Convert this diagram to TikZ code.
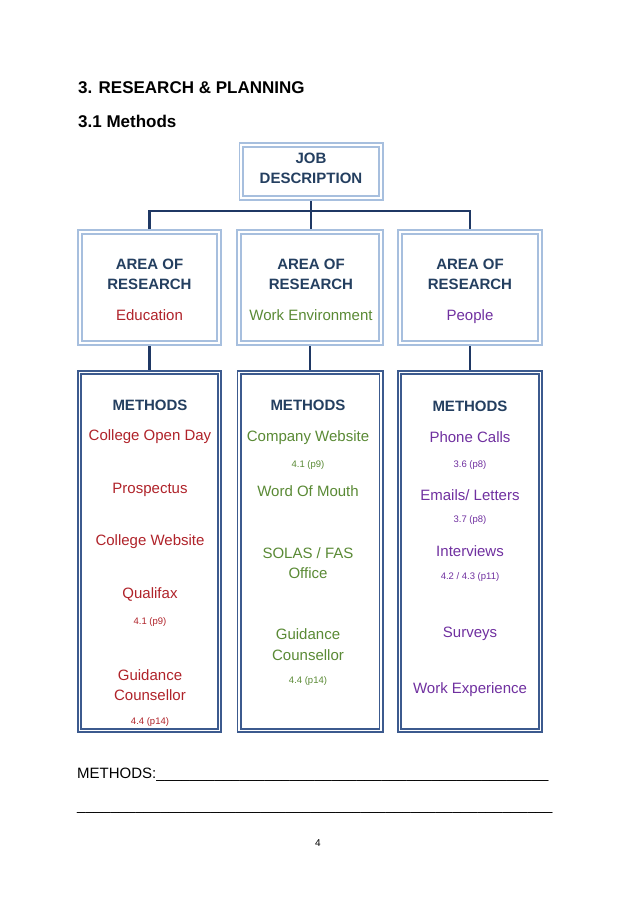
\documentclass[tikz,border=0pt]{standalone}
\usepackage{fontspec}
\setmainfont{Liberation Sans}
\definecolor{navy}{HTML}{1F3864}
\definecolor{headnavy}{HTML}{243F60}
\definecolor{areablue}{HTML}{A7BFDE}
\definecolor{methblue}{HTML}{3C5A8E}
\definecolor{edured}{HTML}{B0232A}
\definecolor{envgreen}{HTML}{5A8A35}
\definecolor{ppurple}{HTML}{7030A0}
\newcommand\myTenUS{\_\_\_\_\_\_\_\_\_\_}
\begin{document}
\begin{tikzpicture}[x=1pt,y=-1pt,
  areabox/.style={draw=areablue, double=white, line width=1.8pt, double distance=2pt,
    outer sep=2.8pt, inner sep=0pt, fill=white},
  methbox/.style={draw=methblue, double=white, line width=1.6pt, double distance=1.8pt,
    outer sep=2.5pt, inner sep=0pt, fill=white},
  conn/.style={draw=navy, line width=2.4pt},
  big/.style={font=\fontsize{17}{20}\selectfont\bfseries, inner sep=0pt, anchor=base west},
  head/.style={font=\fontsize{15}{18}\selectfont\bfseries, text=headnavy, inner sep=0pt, anchor=base},
  item/.style={font=\fontsize{15}{18}\selectfont, inner sep=0pt, anchor=base},
  ref/.style={font=\fontsize{9.5}{11}\selectfont, inner sep=0pt, anchor=base},
  plain/.style={font=\fontsize{15}{18}\selectfont, inner sep=0pt, anchor=base west},
]
\useasboundingbox (0,0) rectangle (638,903);

% titles
\node[big] (title) at (78,93) {3. RESEARCH \& PLANNING};
\node[big] (sub) at (78,127) {3.1 Methods};

% boxes
\node[areabox, minimum width=139.4pt, minimum height=53.4pt] (job) at (311,171.5) {};
\node[areabox, minimum width=139.4pt, minimum height=111.4pt] (a1) at (149.5,287.5) {};
\node[areabox, minimum width=142.4pt, minimum height=111.4pt] (a2) at (310,287.5) {};
\node[areabox, minimum width=140.4pt, minimum height=111.4pt] (a3) at (470,287.5) {};
\node[methbox, minimum width=140pt, minimum height=358pt] (m1) at (149.5,551.5) {};
\node[methbox, minimum width=142pt, minimum height=358pt] (m2) at (310,551.5) {};
\node[methbox, minimum width=141pt, minimum height=358pt] (m3) at (470,551.5) {};

% connectors
\coordinate (bus) at (0,211);
\draw[conn] (job.south) -- (job.south |- a2.north);
\draw[conn] (a1.north) -- (a1.north |- bus) -- (a3.north |- bus) -- (a3.north);
\draw[conn] (a1.south) -- (a1.south |- m1.north);
\draw[conn] (a2.south) -- (a2.south |- m2.north);
\draw[conn] (a3.south) -- (a3.south |- m3.north);

% job text
\node[head] (jt1) at (311,163.3) {JOB};
\node[head] (jt2) at (311,183.3) {DESCRIPTION};

% area texts
\node[head] (a1t1) at (149.5,269.3) {AREA OF};
\node[head] (a1t2) at (149.5,289) {RESEARCH};
\node[item, text=edured] (a1t3) at (149.5,320.5) {Education};
\node[head] (a2t1) at (311,269.3) {AREA OF};
\node[head] (a2t2) at (311,289) {RESEARCH};
\node[item, text=envgreen] (a2t3) at (311,320.5) {Work Environment};
\node[head] (a3t1) at (470,269.3) {AREA OF};
\node[head] (a3t2) at (470,289) {RESEARCH};
\node[item, text=ppurple] (a3t3) at (470,320.5) {People};

% left methods
\begin{scope}[every node/.append style={text=edured}]
\node[head, text=headnavy] (m1h) at (150,410.7) {METHODS};
\node[item] (m1a) at (150,440.7) {College Open Day};
\node[item] (m1b) at (150,493.3) {Prospectus};
\node[item] (m1c) at (150,545.7) {College Website};
\node[item] (m1d) at (150,598.7) {Qualifax};
\node[ref] (m1e) at (150,624.3) {4.1 (p9)};
\node[item] (m1f) at (150,680) {Guidance};
\node[item] (m1g) at (150,700) {Counsellor};
\node[ref] (m1i) at (150,724) {4.4 (p14)};
\end{scope}

% middle methods
\begin{scope}[every node/.append style={text=envgreen}]
\node[head, text=headnavy] (m2h) at (308,410.7) {METHODS};
\node[item] (m2a) at (308,441) {Company Website};
\node[ref] (m2b) at (308,467) {4.1 (p9)};
\node[item] (m2c) at (308,496.7) {Word Of Mouth};
\node[item] (m2d) at (308,558.3) {SOLAS / FAS};
\node[item] (m2e) at (308,578.3) {Office};
\node[item] (m2f) at (308,639.3) {Guidance};
\node[item] (m2g) at (308,660) {Counsellor};
\node[ref] (m2i) at (308,683.3) {4.4 (p14)};
\end{scope}

% right methods
\begin{scope}[every node/.append style={text=ppurple}]
\node[head, text=headnavy] (m3h) at (470,411.3) {METHODS};
\node[item] (m3a) at (470,442.3) {Phone Calls};
\node[ref] (m3b) at (470,467) {3.6 (p8)};
\node[item] (m3c) at (470,500.3) {Emails/ Letters};
\node[ref] (m3d) at (470,522.3) {3.7 (p8)};
\node[item] (m3e) at (470,556.3) {Interviews};
\node[ref] (m3f) at (470,579) {4.2 / 4.3 (p11)};
\node[item] (m3g) at (470,637.5) {Surveys};
\node[item] (m3i) at (470,693.3) {Work Experience};
\end{scope}

% bottom lines
\node[plain] (bm1) at (77,778.3) {METHODS:\myTenUS\myTenUS\myTenUS\myTenUS\_\_\_\_\_\_\_};
\node[plain] (bm2) at (77,810) {\myTenUS\myTenUS\myTenUS\myTenUS\myTenUS\_\_\_\_\_\_\_};
\node[ref, font=\fontsize{10}{12}\selectfont] (pg) at (318,846.7) {4};
\end{tikzpicture}
\end{document}
